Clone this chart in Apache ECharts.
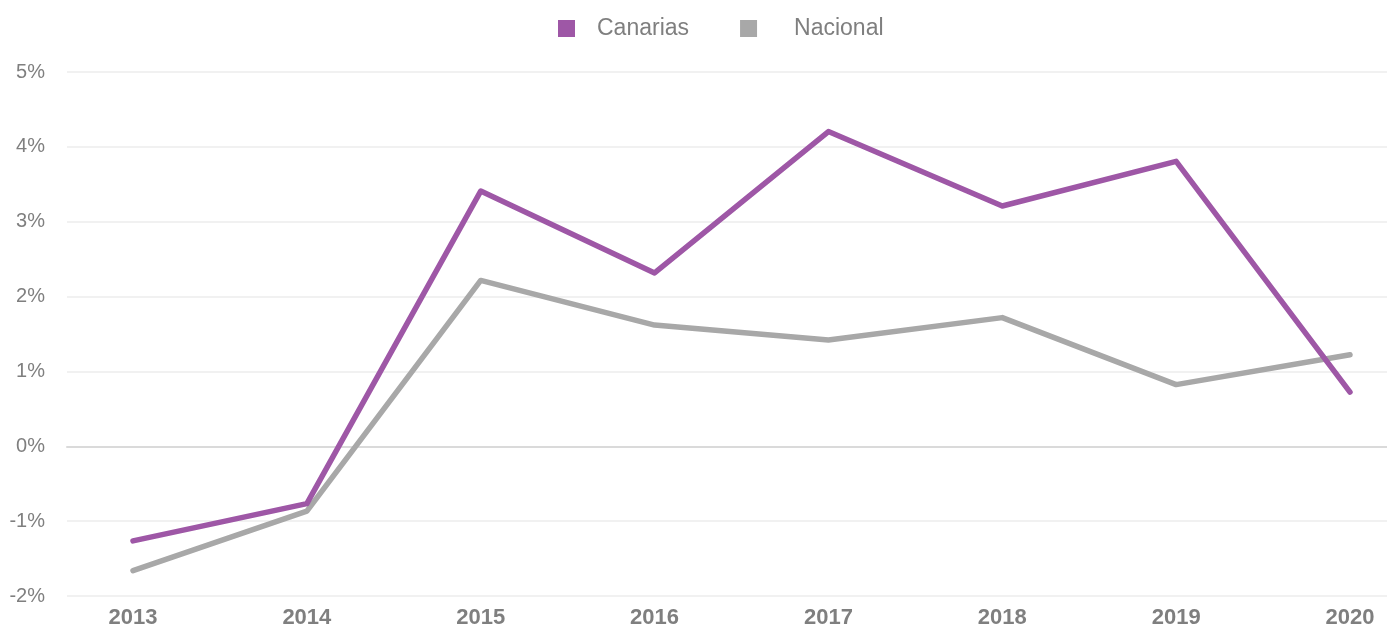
<!DOCTYPE html>
<html>
<head>
<meta charset="utf-8">
<script src="https://cdn.jsdelivr.net/npm/echarts@6/dist/echarts.min.js"></script>
<style>
  html, body { margin: 0; padding: 0; background: #ffffff; }
  #chart { width: 1387px; height: 629px; }
</style>
</head>
<body>
<div id="chart"></div>
<script>
// Year-on-year variation (%), 2013–2020
const years = ['2013', '2014', '2015', '2016', '2017', '2018', '2019', '2020'];
const canarias = [-1.3, -0.8, 3.4, 2.3, 4.2, 3.2, 3.8, 0.7];
const nacional = [-1.7, -0.9, 2.2, 1.6, 1.4, 1.7, 0.8, 1.2];
const yMin = -2, yMax = 5, yStep = 1;

const purple = '#9e57a6';
const grey = '#a8a8a8';
const textGrey = '#7f7f7f';
const fontFamily = 'Liberation Sans, Arial, Helvetica, sans-serif';

const chart = echarts.init(document.getElementById('chart'), null, { renderer: 'canvas' });

chart.setOption({
  animation: false,
  backgroundColor: '#ffffff',
  legend: {
    data: [
      { name: 'Canarias', textStyle: { padding: [0, 0, 0, 17] } },
      { name: 'Nacional', textStyle: { padding: [0, 0, 0, 32] } }
    ],
    left: 553,
    top: 12,
    icon: 'rect',
    itemWidth: 17,
    itemHeight: 17,
    itemGap: 51,
    textStyle: { color: textGrey, fontSize: 23, fontFamily: fontFamily }
  },
  grid: [
    // full-width grid carrying the gridlines and percentage labels
    { left: 67, right: 0, top: 72, bottom: 33 },
    // plotting area for the yearly series
    { left: 133, right: 37, top: 72, bottom: 33 }
  ],
  xAxis: [
    {
      type: 'value', gridIndex: 0, min: 0, max: 1,
      axisLine: { show: true, onZero: true, lineStyle: { color: '#dadada', width: 2 } },
      axisTick: { show: false },
      axisLabel: { show: false },
      splitLine: { show: false }
    },
    {
      type: 'category', gridIndex: 1, data: years, boundaryGap: false,
      axisLine: { show: false },
      axisTick: { show: false },
      splitLine: { show: false },
      axisLabel: {
        color: textGrey, fontSize: 22, fontWeight: 'bold', fontFamily: fontFamily, margin: 14
      }
    }
  ],
  yAxis: [
    {
      type: 'value', gridIndex: 0, min: yMin, max: yMax, interval: yStep,
      axisLine: { show: false },
      axisTick: { show: false },
      axisLabel: {
        formatter: '{value}%', color: textGrey, fontSize: 20, fontFamily: fontFamily, margin: 22
      },
      splitLine: { show: true, lineStyle: { color: '#f1f1f1', width: 2 } }
    },
    {
      type: 'value', gridIndex: 1, min: yMin, max: yMax, interval: yStep,
      show: false
    }
  ],
  series: [
    {
      name: 'Nacional', type: 'line', xAxisIndex: 1, yAxisIndex: 1,
      data: nacional, showSymbol: false, symbol: 'none', z: 2,
      lineStyle: { color: grey, width: 5.5, cap: 'round', join: 'round' },
      itemStyle: { color: grey }
    },
    {
      name: 'Canarias', type: 'line', xAxisIndex: 1, yAxisIndex: 1,
      data: canarias, showSymbol: false, symbol: 'none', z: 3,
      lineStyle: { color: purple, width: 5.5, cap: 'round', join: 'round' },
      itemStyle: { color: purple }
    }
  ]
});
</script>
</body>
</html>
